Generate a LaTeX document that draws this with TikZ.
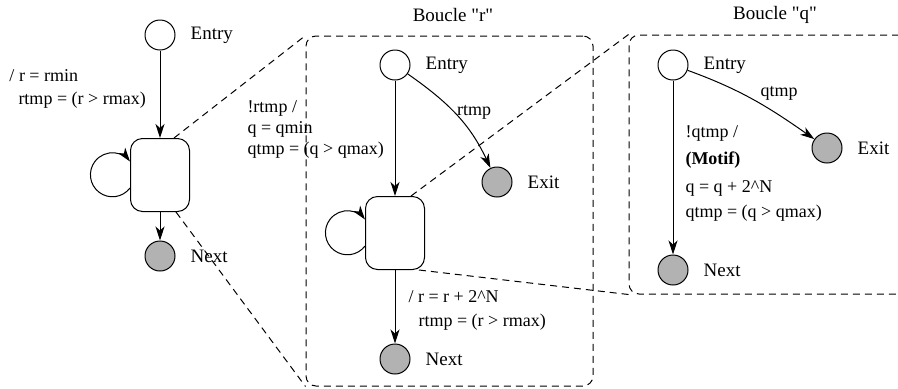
\documentclass[tikz,border=0pt]{standalone}
\usepackage{fontspec}
\setmainfont{Liberation Serif}[Ligatures=TeXOff]
\usetikzlibrary{arrows.meta, positioning}

\begin{document}
\begin{tikzpicture}[
  x=0.5pt, y=0.5pt,
  line width=0.5pt,
  font=\fontsize{9}{11}\selectfont,
  initstate/.style={circle, draw, fill=white, minimum size=15pt, inner sep=0pt},
  finalstate/.style={circle, draw, fill=black!30, minimum size=15pt, inner sep=0pt},
  superstate/.style={draw, rounded corners=6pt, minimum width=29.5pt, minimum height=36.5pt},
  cluster/.style={draw, dash pattern=on 3.5pt off 2.5pt, rounded corners=5pt},
  zoomline/.style={dash pattern=on 3.5pt off 2.5pt},
  trans/.style={-{Stealth[length=7pt, width=4.5pt, inset=2pt]}},
  lbl/.style={anchor=west, inner sep=0pt},
  statelbl/.style={font=\fontsize{9.5}{11}\selectfont}
]
  \useasboundingbox (0,0) rectangle (898,388);
  \clip (0,0) rectangle (898,388);

  % boucles
  \node[cluster, minimum width=143.5pt, minimum height=175pt] (bcr) at (449.5,177) {};
  \node[cluster, minimum width=146pt, minimum height=129.5pt] (bcq) at (775,223.5) {};
  \node[statelbl] (tr) at (453,373) {Boucle "r"};
  \node[statelbl] (tq) at (775,373) {Boucle "q"};

  % niveau principal
  \node[initstate] (e1) at (160,353) {};
  \node[statelbl, right=4pt of e1] (e1l) {Entry};
  \node[superstate] (b1) at (160,213) {};
  \node[finalstate] (n1) at (160,132) {};
  \node[statelbl, right=4pt of n1] (n1l) {Next};
  \draw[trans] (e1) -- (b1);
  \draw[trans] (b1) -- (n1);
  \draw[trans] ([yshift=-6.5pt]b1.west) arc[start angle=-37, end angle=-323, radius=11pt];
  \node[lbl] (t1a) at (9,312) {/ r = rmin};
  \node[lbl] (t1b) at (18,288) {rtmp = (r > rmax)};

  \node[lbl] (t2a) at (247,280) {!rtmp /};
  \node[lbl] (t2b) at (247,259) {q = qmin};
  \node[lbl] (t2c) at (247,238) {qtmp = (q > qmax)};

  % boucle r
  \node[initstate] (e2) at (395,323) {};
  \node[statelbl, right=4pt of e2] (e2l) {Entry};
  \node[finalstate] (x2) at (497,206) {};
  \node[statelbl, right=4pt of x2] (x2l) {Exit};
  \node[superstate] (b2) at (395,155) {};
  \node[finalstate] (n2) at (395,29) {};
  \node[statelbl, right=4pt of n2] (n2l) {Next};
  \draw[trans] (e2) -- (b2);
  \draw[trans] (b2) -- (n2);
  \draw[trans] (e2) to[out=-35, in=115] node[pos=0.42, right, yshift=-2pt] (c2) {rtmp} (x2);
  \draw[trans] ([yshift=-6.5pt]b2.west) arc[start angle=-37, end angle=-323, radius=11pt];
  \node[lbl] (t3a) at (408,91) {/ r = r + 2\textasciicircum N};
  \node[lbl] (t3b) at (418,66) {rtmp = (r > rmax)};

  % boucle q
  \node[initstate] (e3) at (673,323) {};
  \node[statelbl, right=4pt of e3] (e3l) {Entry};
  \node[finalstate] (x3) at (827,240) {};
  \node[statelbl, right=4pt of x3] (x3l) {Exit};
  \node[finalstate] (n3) at (673,118) {};
  \node[statelbl, right=4pt of n3] (n3l) {Next};
  \draw[trans] (e3) -- (n3);
  \draw[trans] (e3) to[out=-20, in=145] node[pos=0.5, above right, yshift=-4pt] (c3) {qtmp} (x3);
  \node[lbl] (t4a) at (685,255) {!qtmp /};
  \node[lbl] (t4b) at (685,228) {\textbf{(Motif)}};
  \node[lbl] (t4c) at (685,200) {q = q + 2\textasciicircum N};
  \node[lbl] (t4d) at (685,175) {qtmp = (q > qmax)};

  % zooms
  \draw[zoomline] ([xshift=-8pt]b1.north east) -- (bcr.north west);
  \draw[zoomline] ([xshift=-7pt]b1.south east) -- (bcr.south west);
  \draw[zoomline] ([xshift=-7pt]b2.north east) -- (bcq.north west);
  \draw[zoomline] ([xshift=-3pt]b2.south east) -- (bcq.south west);
\end{tikzpicture}
\end{document}
